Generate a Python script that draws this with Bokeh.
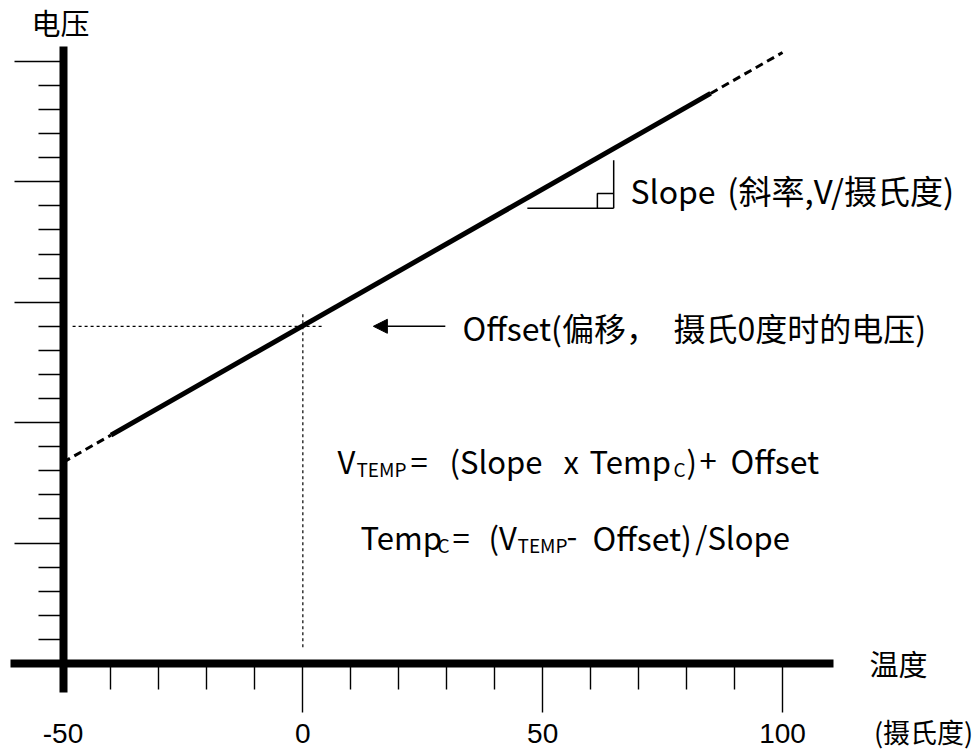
from bokeh.plotting import figure
from bokeh.models import LinearAxis, FixedTicker, Range1d, Label, Arrow, NormalHead
from bokeh.embed import file_html
from bokeh.resources import INLINE

# ---------------- data ----------------
# temperature (deg C) / voltage (minor-tick units)
dash_low_temp = [-50, -40]
dash_low_volt = [8.35, 9.48]
solid_temp = [-40, 85]
solid_volt = [9.48, 23.67]
dash_high_temp = [85, 100]
dash_high_volt = [23.67, 25.37]

guide_h_temp = [-48, 4]
guide_h_volt = [14.0, 14.0]
guide_v_temp = [0, 0]
guide_v_volt = [14.5, 0.6]

tri_h_temp = [46.8, 64.8]
tri_h_volt = [18.9, 18.9]
tri_v_temp = [64.8, 64.8]
tri_v_volt = [18.9, 20.9]
tri_sq_temp = [61.4, 61.4, 64.8]
tri_sq_volt = [18.9, 19.52, 19.52]

x_major_ticks = [0, 50, 100]
x_minor_ticks = [-40, -30, -20, -10, 10, 20, 30, 40, 60, 70, 80, 90]
y_major_ticks = [5, 10, 15, 20, 25]
y_minor_ticks = [v for v in range(1, 25) if v % 5 != 0]

CJK = "Noto Sans CJK SC"
NUM = "Liberation Sans"

p = figure(width=979, height=752, output_backend="svg", toolbar_location=None,
           x_axis_type=None, y_axis_type=None,
           x_range=Range1d(-63.03, 141.06), y_range=Range1d(-3.70, 27.53),
           min_border=0, min_border_left=0, min_border_right=0,
           min_border_top=0, min_border_bottom=0)
p.outline_line_color = None
p.background_fill_color = "white"
p.border_fill_color = "white"

# ---------------- axes ----------------
yaxis = LinearAxis(fixed_location=-50,
                   ticker=FixedTicker(ticks=y_major_ticks, minor_ticks=y_minor_ticks),
                   bounds=(-1.2, 25.6))
yaxis.axis_line_width = 8
yaxis.axis_line_color = "black"
yaxis.major_tick_out = 49
yaxis.major_tick_in = 0
yaxis.minor_tick_out = 25
yaxis.minor_tick_in = 0
yaxis.major_tick_line_width = 1.4
yaxis.minor_tick_line_width = 1.4
yaxis.major_tick_line_color = "black"
yaxis.minor_tick_line_color = "black"
yaxis.major_label_overrides = {t: "" for t in y_major_ticks}
p.add_layout(yaxis, "left")

xaxis = LinearAxis(fixed_location=0,
                   ticker=FixedTicker(ticks=x_major_ticks, minor_ticks=x_minor_ticks),
                   bounds=(-60.94, 110.6))
xaxis.axis_line_width = 8
xaxis.axis_line_color = "black"
xaxis.major_tick_out = 49
xaxis.major_tick_in = 0
xaxis.minor_tick_out = 26
xaxis.minor_tick_in = 0
xaxis.major_tick_line_width = 1.4
xaxis.minor_tick_line_width = 1.4
xaxis.major_tick_line_color = "black"
xaxis.minor_tick_line_color = "black"
xaxis.major_label_text_font = NUM
xaxis.major_label_text_font_size = "28px"
xaxis.major_label_text_color = "black"
xaxis.major_label_standoff = 12
p.add_layout(xaxis, "below")

xaxis2 = LinearAxis(fixed_location=0,
                    ticker=FixedTicker(ticks=[-50], minor_ticks=[]))
xaxis2.axis_line_color = None
xaxis2.major_tick_line_color = None
xaxis2.major_tick_out = 49
xaxis2.major_tick_in = 0
xaxis2.major_label_overrides = {-50: "-50"}
xaxis2.major_label_text_font = NUM
xaxis2.major_label_text_font_size = "28px"
xaxis2.major_label_text_color = "black"
xaxis2.major_label_standoff = 12
p.add_layout(xaxis2, "below")

# ---------------- lines ----------------
p.line(guide_h_temp, guide_h_volt, line_color="black", line_width=1.2, line_dash="3 3")
p.line(guide_v_temp, guide_v_volt, line_color="black", line_width=1.2, line_dash="3 3")
p.line(dash_low_temp, dash_low_volt, line_color="black", line_width=3, line_dash="8 5")
p.line(dash_high_temp, dash_high_volt, line_color="black", line_width=3, line_dash="8 5")
p.line(solid_temp, solid_volt, line_color="black", line_width=5)
p.line(tri_h_temp, tri_h_volt, line_color="black", line_width=1.5)
p.line(tri_v_temp, tri_v_volt, line_color="black", line_width=1.5)
p.line(tri_sq_temp, tri_sq_volt, line_color="black", line_width=1.5)

p.add_layout(Arrow(end=NormalHead(size=14, fill_color="black", line_color="black"),
                   x_start=29.7, y_start=14.0, x_end=14.7, y_end=14.0,
                   line_color="black", line_width=1.5))

# ---------------- texts ----------------
def lab(x, y, text, size, align="left", font=CJK):
    p.add_layout(Label(x=x, y=y, text=text, text_font=font, text_font_size=size,
                       text_align=align, text_baseline="middle", text_color="black"))

lab(-50.52, 26.62, "电压", "29px", "center")
lab(124.17, 0.0, "温度", "29px", "center")
lab(129.4, -2.82, "(摄氏度)", "27px", "center")

# slope label
lab(68.30, 19.64, "Slope", "32px")
lab(88.5, 19.64, "(斜率,V/摄氏度)", "33px")
# offset label
lab(33.28, 13.95, "Offset(偏移，", "32px")
lab(77.27, 13.95, "摄氏0度时的电压)", "32px")

# equation 1: V_TEMP = (Slope x Temp_C) + Offset
E1, E1s = 8.43, 8.08
lab(7.22, E1, "V", "31px")
lab(11.18, E1s, "TEMP", "19px")
lab(22.44, E1, "=", "31px")
lab(30.57, E1, "(Slope", "31px")
lab(54.34, E1, "x", "31px")
lab(59.76, E1, "Temp", "31px")
lab(77.27, E1s, "C", "19px")
lab(80.0, E1, ")", "31px")
lab(82.69, E1, "+", "31px")
lab(89.15, E1, "Offset", "32px")

# equation 2: Temp_C = (V_TEMP - Offset)/Slope
E2, E2s = 5.27, 4.93
lab(12.02, E2, "Temp", "31px")
lab(28.07, E2s, "C", "19px")
lab(31.2, E2, "=", "31px")
lab(38.7, E2, "(V", "31px")
lab(44.75, E2s, "TEMP", "19px")
lab(54.96, E2, "-", "31px")
lab(60.38, E2, "Offset)", "32px")
lab(81.8, E2, "/Slope", "31px")

open("out.html", "w").write(file_html(p, INLINE))
